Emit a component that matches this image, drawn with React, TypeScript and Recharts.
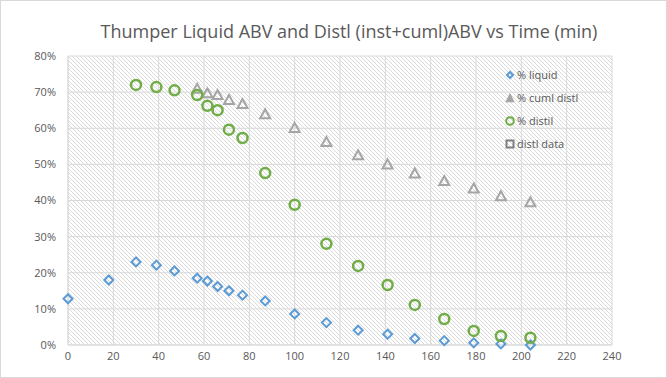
import React from 'react';
import { ScatterChart, Scatter, XAxis, YAxis, CartesianGrid } from 'recharts';

// time (min) for each sample
const liquidTime = [0, 18, 30, 39, 47, 57, 61.5, 66, 71, 77, 87, 100, 114, 128, 141, 153, 166, 179, 191, 204];
const liquidAbv = [12.8, 18.0, 23.0, 22.1, 20.5, 18.5, 17.7, 16.2, 15.0, 13.8, 12.2, 8.6, 6.2, 4.1, 3.0, 1.8, 1.2, 0.6, 0.3, 0.0];

const cumlTime = [57, 61.5, 66, 71, 77, 87, 100, 114, 128, 141, 153, 166, 179, 191, 204];
const cumlAbv = [70.9, 69.7, 69.2, 67.8, 66.7, 63.9, 60.1, 56.2, 52.5, 50.0, 47.5, 45.4, 43.3, 41.2, 39.5];

const distilTime = [30, 39, 47, 57, 61.5, 66, 71, 77, 87, 100, 114, 128, 141, 153, 166, 179, 191, 204];
const distilAbv = [72.0, 71.4, 70.5, 69.2, 66.2, 65.0, 59.6, 57.3, 47.6, 38.8, 28.0, 21.9, 16.6, 11.1, 7.2, 3.9, 2.5, 2.0];

// "distl data" shows in the legend but has no visible points
const distlDataTime: number[] = [];
const distlDataAbv: number[] = [];

const xTicks = [0, 20, 40, 60, 80, 100, 120, 140, 160, 180, 200, 220, 240];
const yTicks = [0, 10, 20, 30, 40, 50, 60, 70, 80];

const toPoints = (xs: number[], ys: number[]) => xs.map((x, i) => ({ x, y: ys[i] }));

const BLUE = '#5b9bd5';
const GRAY = '#a5a5a5';
const GREEN = '#70ad47';
const DARK = '#7f7f7f';
const TEXT = '#595959';
const FONT = '"Open Sans", "Noto Sans", sans-serif';

const Diamond = ({ cx, cy }: any) => (
  <path d={`M${cx},${cy - 4.5} L${cx + 4.5},${cy} L${cx},${cy + 4.5} L${cx - 4.5},${cy} Z`} fill="none" stroke={BLUE} strokeWidth={2} />
);

const Triangle = ({ cx, cy }: any) => (
  <path d={`M${cx},${cy - 5} L${cx + 5},${cy + 4} L${cx - 5},${cy + 4} Z`} fill="none" stroke={GRAY} strokeWidth={2} />
);

const Ring = ({ cx, cy }: any) => (
  <circle cx={cx} cy={cy} r={5} fill="none" stroke={GREEN} strokeWidth={2.5} />
);

const Square = ({ cx, cy }: any) => (
  <rect x={cx - 4} y={cy - 4} width={8} height={8} fill="none" stroke={DARK} strokeWidth={2} />
);

const legendItems = [
  { name: '% liquid', icon: 'diamond' },
  { name: '% cuml distl', icon: 'triangle' },
  { name: '% distil', icon: 'ring' },
  { name: 'distl data', icon: 'square' },
];

const LegendIcon = ({ kind }: { kind: string }) => {
  return (
    <svg width={10} height={10} style={{ marginRight: 2, display: 'block' }}>
      {kind === 'diamond' && <path d="M5,2 L8,5 L5,8 L2,5 Z" fill="none" stroke={BLUE} strokeWidth={2} />}
      {kind === 'triangle' && <path d="M5,1.5 L8.5,8.5 L1.5,8.5 Z" fill={GRAY} stroke={GRAY} strokeWidth={1.5} />}
      {kind === 'ring' && <circle cx={5} cy={5} r={3.8} fill="none" stroke={GREEN} strokeWidth={2} />}
      {kind === 'square' && <rect x={1.5} y={1.5} width={7} height={7} fill="none" stroke={DARK} strokeWidth={2} />}
    </svg>
  );
};

export default function App() {
  return (
    <div style={{ position: 'absolute', left: 0, top: 0, width: 667, height: 378, background: '#fff', fontFamily: FONT }}>
      <div style={{ position: 'absolute', inset: 0, border: '1px solid #d9d9d9', boxSizing: 'border-box', pointerEvents: 'none', zIndex: 2 }} />
      <div style={{ position: 'absolute', top: 19, left: 0, width: 698, textAlign: 'center', fontSize: 18, color: TEXT }}>
        Thumper Liquid ABV and Distl (inst+cuml)ABV vs Time (min)
      </div>
      <ScatterChart width={667} height={378} margin={{ top: 56, right: 55, bottom: 13, left: 18 }}>
        <defs>
          <pattern id="hatch" patternUnits="userSpaceOnUse" width={4} height={4}>
            <path d="M-1,-1 L5,5 M-1,3 L1,5 M3,-1 L5,1" stroke="#cfcfcf" strokeWidth={0.8} />
          </pattern>
        </defs>
        <CartesianGrid stroke="#d9d9d9" fill="url(#hatch)" fillOpacity={1} />
        <XAxis
          type="number"
          dataKey="x"
          domain={[0, 240]}
          ticks={xTicks}
          interval={0}
          height={20}
          tickLine={false}
          axisLine={{ stroke: '#d9d9d9' }}
          tickSize={0}
          tickMargin={7}
          tick={{ fontSize: 11, fill: TEXT, fontFamily: FONT }}
        />
        <YAxis
          type="number"
          dataKey="y"
          domain={[0, 80]}
          ticks={yTicks}
          interval={0}
          width={50}
          tickLine={false}
          axisLine={{ stroke: '#d9d9d9' }}
          tickSize={0}
          tickMargin={12}
          tickFormatter={(v: number) => `${v}%`}
          tick={{ fontSize: 11, fill: TEXT, fontFamily: FONT }}
        />
        <Scatter name="% liquid" data={toPoints(liquidTime, liquidAbv)} shape={<Diamond />} isAnimationActive={false} />
        <Scatter name="% cuml distl" data={toPoints(cumlTime, cumlAbv)} shape={<Triangle />} isAnimationActive={false} />
        <Scatter name="% distil" data={toPoints(distilTime, distilAbv)} shape={<Ring />} isAnimationActive={false} />
        <Scatter name="distl data" data={toPoints(distlDataTime, distlDataAbv)} shape={<Square />} isAnimationActive={false} />
      </ScatterChart>
      <div style={{ position: 'absolute', left: 505, top: 63 }}>
        {legendItems.map((it) => (
          <div key={it.name} style={{ display: 'flex', alignItems: 'center', height: 23, fontSize: 11, lineHeight: '23px', color: TEXT }}>
            <LegendIcon kind={it.icon} />
            <span>{it.name}</span>
          </div>
        ))}
      </div>
    </div>
  );
}
